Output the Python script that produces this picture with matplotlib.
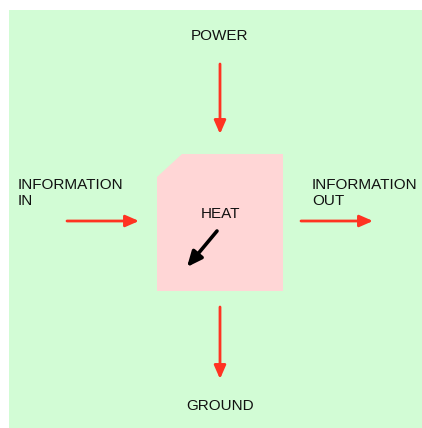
import matplotlib
matplotlib.use("Agg")
import matplotlib.pyplot as plt
from matplotlib.patches import Polygon, Rectangle, FancyArrowPatch

labels = ["POWER", "GROUND", "INFORMATION\nIN", "INFORMATION\nOUT", "HEAT"]
label_x = [220, 220, 18, 312, 220]
label_y = [36, 406, 193, 193, 214]
label_ha = ["center", "center", "left", "left", "center"]

# arrows: (x0, y0, x1, y1)
red_arrows_start_x = [220, 220, 67, 301]
red_arrows_start_y = [64, 307, 221, 221]
red_arrows_end_x = [220, 220, 139, 373]
red_arrows_end_y = [134, 379, 221, 221]
heat_arrow = [217, 231, 187, 267]

box_x = [157, 182, 283, 283, 157]
box_y = [177, 154, 154, 291, 291]

fig = plt.figure(figsize=(4.22, 4.28), dpi=100)
fig.patch.set_facecolor("white")
ax = fig.add_axes([0, 0, 1, 1])
ax.set_xlim(0, 422)
ax.set_ylim(428, 0)
ax.axis("off")

ax.add_patch(Rectangle((9, 10), 413, 418, facecolor="#d2fcd5", edgecolor="none"))
ax.add_patch(Polygon(list(zip(box_x, box_y)), closed=True, facecolor="#ffd6d6", edgecolor="none"))

for x0, y0, x1, y1 in zip(red_arrows_start_x, red_arrows_start_y, red_arrows_end_x, red_arrows_end_y):
    ax.add_patch(FancyArrowPatch((x0, y0), (x1, y1), arrowstyle="-|>,head_length=8,head_width=3.5",
                                 color="#ff3322", lw=2.0, mutation_scale=1, shrinkA=0, shrinkB=0))

ax.add_patch(FancyArrowPatch((heat_arrow[0], heat_arrow[1]), (heat_arrow[2], heat_arrow[3]),
                             arrowstyle="-|>,head_length=9,head_width=4", color="black", lw=2.6,
                             mutation_scale=1, shrinkA=0, shrinkB=0))

for t, x, y, ha in zip(labels, label_x, label_y, label_ha):
    ax.text(x, y, t, ha=ha, va="center", fontsize=11, family="Liberation Sans",
            color="#111111", linespacing=1.15)

fig.savefig("out.png", dpi=100)
